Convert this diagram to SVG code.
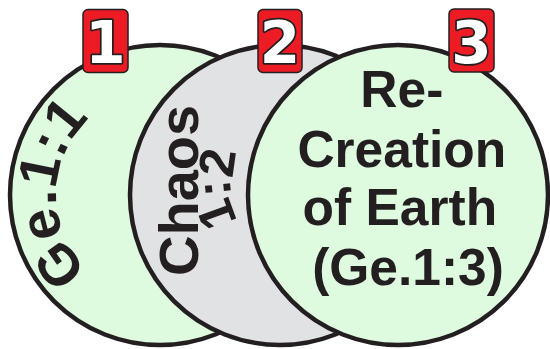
<svg xmlns="http://www.w3.org/2000/svg" xmlns:xlink="http://www.w3.org/1999/xlink" width="550" height="349" viewBox="0 0 550 349">
<style>
.ring{stroke:#231f20;stroke-width:4.5}
.green{fill:#dffbdf}
.gray{fill:#e1e2e4}
.lbl{font-family:"Liberation Sans",Arial,sans-serif;font-weight:bold;fill:#231f20}
.badge{fill:#ed1c24;stroke:#231f20;stroke-width:1.5}
.num{font-family:"DejaVu Sans",sans-serif;font-weight:bold;font-size:58px;fill:#ffffff;stroke:#231f20;stroke-width:3.5;paint-order:stroke;stroke-linejoin:round;text-anchor:middle}
</style>
<defs>
<path id="arc1" d="M108,285.07 A104,104 0 0 1 124.43,97.27"/>
</defs>
<g id="node-1">
<circle class="ring green" cx="160" cy="195" r="150"/>
<text class="lbl" font-size="56"><textPath xlink:href="#arc1" href="#arc1" startOffset="24">Ge.1:1</textPath></text>
<rect class="badge" x="83" y="9.5" width="45" height="63" rx="5"/>
<text class="num" x="105.5" y="63">1</text>
</g>
<g id="node-2">
<circle class="ring gray" cx="280" cy="195" r="150"/>
<text class="lbl" font-size="56" transform="translate(198,276) rotate(-90)">Chaos</text>
<text class="lbl" font-size="50" x="237.2 231.3 232.3" y="221.4 194.9 178.8" rotate="-110 -96 -82">1:2</text>
<rect class="badge" x="258" y="9.5" width="44" height="63" rx="5"/>
<text class="num" x="280" y="63">2</text>
</g>
<g id="node-3">
<circle class="ring green" cx="398" cy="195" r="150"/>
<text class="lbl" font-size="51.5" text-anchor="middle">
<tspan x="409" y="107">Re-</tspan>
<tspan x="409" y="167">Creation</tspan>
<tspan x="407" y="225">of Earth</tspan>
<tspan x="408" y="285">(Ge.1:3)</tspan>
</text>
<rect class="badge" x="449" y="9" width="45" height="63" rx="5"/>
<text class="num" x="471.5" y="63">3</text>
</g>
<g id="connectors"/>
</svg>
